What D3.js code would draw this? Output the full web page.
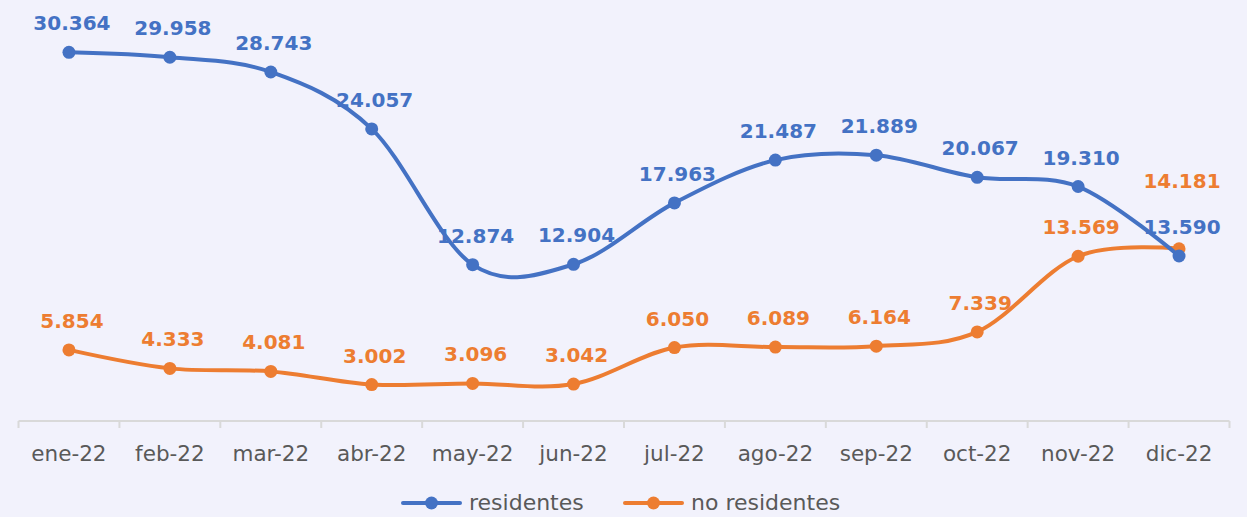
<!DOCTYPE html>
<html>
<head>
<meta charset="utf-8">
<script src="https://cdn.jsdelivr.net/npm/d3@7"></script>
<style>
  body { margin: 0; background: #f2f2fc; }
  svg { display: block; }
</style>
</head>
<body>
<svg id="chart" width="1247" height="517"></svg>
<script>
var months = ["ene-22", "feb-22", "mar-22", "abr-22", "may-22", "jun-22",
  "jul-22", "ago-22", "sep-22", "oct-22", "nov-22", "dic-22"];
var residentes = [30364, 29958, 28743, 24057, 12874, 12904, 17963, 21487, 21889, 20067, 19310, 13590];
var noResidentes = [5854, 4333, 4081, 3002, 3096, 3042, 6050, 6089, 6164, 7339, 13569, 14181];
var seriesNames = ["residentes", "no residentes"];
var colors = ["#4472c4", "#ed7d31"];

var svg = d3.select("#chart");
var fontFamily = "'DejaVu Sans', sans-serif";

var es = d3.formatLocale({ decimal: ",", thousands: ".", grouping: [3], currency: ["", "€"] });
var fmt = es.format(",d");

var x = d3.scaleBand().domain(months).range([18.5, 1229.5]);
var y = d3.scaleLinear().domain([0, 35000]).range([421, -4]);

function cx(d, i) { return x(months[i]) + x.bandwidth() / 2; }

// axis
var axis = svg.append("g").attr("transform", "translate(0,421)");
axis.append("line")
  .attr("x1", 18.5).attr("x2", 1229.5)
  .attr("stroke", "#d9d9d9").attr("stroke-width", 2);
axis.selectAll(".tick")
  .data(months.concat(["end"]))
  .enter()
  .append("line")
  .attr("x1", function (d, i) { return 18.5 + i * x.bandwidth(); })
  .attr("x2", function (d, i) { return 18.5 + i * x.bandwidth(); })
  .attr("y1", 0).attr("y2", 7)
  .attr("stroke", "#d9d9d9").attr("stroke-width", 2);
axis.selectAll(".lbl")
  .data(months)
  .enter()
  .append("text")
  .attr("x", function (d) { return x(d) + x.bandwidth() / 2; })
  .attr("y", 40)
  .attr("text-anchor", "middle")
  .attr("font-family", fontFamily)
  .attr("font-size", "21.5px")
  .attr("fill", "#595959")
  .text(function (d) { return d; });

var line = d3.line()
  .x(cx)
  .y(function (d) { return y(d); })
  .curve(d3.curveCardinal.tension(0));

[noResidentes, residentes].forEach(function (data) {
  var idx = data === residentes ? 0 : 1;
  var g = svg.append("g");
  g.append("path")
    .attr("d", line(data))
    .attr("fill", "none")
    .attr("stroke", colors[idx])
    .attr("stroke-width", 4)
    .attr("stroke-linecap", "round");
  g.selectAll("circle")
    .data(data)
    .enter()
    .append("circle")
    .attr("cx", cx)
    .attr("cy", function (d) { return y(d); })
    .attr("r", 6.5)
    .attr("fill", colors[idx]);
});

// data labels
[residentes, noResidentes].forEach(function (data, idx) {
  svg.append("g").selectAll("text")
    .data(data)
    .enter()
    .append("text")
    .attr("x", function (d, i) { return cx(d, i) + 3; })
    .attr("y", function (d, i) {
      var off = (idx === 1 && i === data.length - 1) ? 61 : 22;
      return y(d) - off;
    })
    .attr("text-anchor", "middle")
    .attr("font-family", fontFamily)
    .attr("font-size", "20px")
    .attr("font-weight", "bold")
    .attr("fill", colors[idx])
    .text(function (d) { return fmt(d); });
});

// legend
var legendX = [403, 625];
seriesNames.forEach(function (name, i) {
  var lg = svg.append("g").attr("transform", "translate(" + legendX[i] + ",503)");
  lg.append("line").attr("x1", 0).attr("x2", 57)
    .attr("stroke", colors[i]).attr("stroke-width", 4).attr("stroke-linecap", "round");
  lg.append("circle").attr("cx", 28.5).attr("cy", 0).attr("r", 6.5).attr("fill", colors[i]);
  lg.append("text")
    .attr("x", 66).attr("y", 7)
    .attr("font-family", fontFamily)
    .attr("font-size", "22px")
    .attr("fill", "#595959")
    .text(name);
});
</script>
</body>
</html>
